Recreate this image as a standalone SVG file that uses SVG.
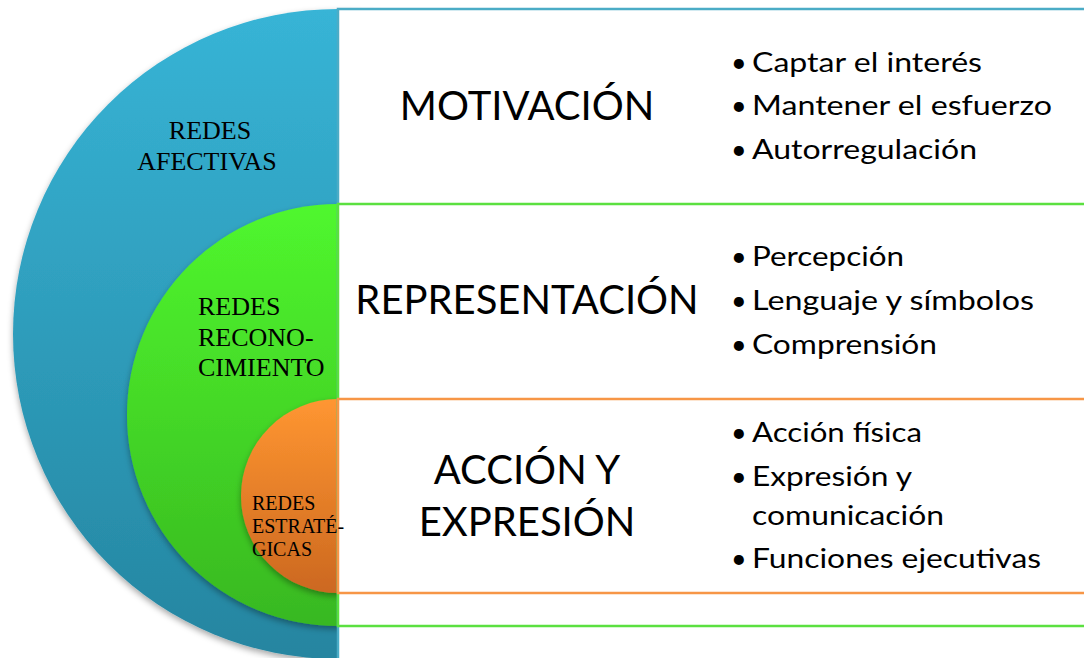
<svg xmlns="http://www.w3.org/2000/svg" width="1084" height="658" viewBox="0 0 1084 658">
  <defs>
    <linearGradient id="gBlue" x1="0" y1="0" x2="0" y2="1">
      <stop offset="0" stop-color="#37B4D6"/>
      <stop offset="1" stop-color="#2585A0"/>
    </linearGradient>
    <linearGradient id="gGreen" x1="0" y1="0" x2="0" y2="1">
      <stop offset="0" stop-color="#50F72E"/>
      <stop offset="1" stop-color="#38B820"/>
    </linearGradient>
    <linearGradient id="gOrange" x1="0" y1="0" x2="0" y2="1">
      <stop offset="0" stop-color="#FF9631"/>
      <stop offset="1" stop-color="#CC6820"/>
    </linearGradient>
    <filter id="shadow" x="-10%" y="-10%" width="120%" height="125%">
      <feDropShadow dx="0" dy="3" stdDeviation="3" flood-color="#000" flood-opacity="0.35"/>
    </filter>
  </defs>
  <style>
    .box { fill: #FFFFFF; stroke-width: 2.5; }
    .serif { font-family: "Liberation Serif", "Times New Roman", serif; fill: #000; }
    .title { font-family: Lato, "Open Sans", sans-serif; font-size: 40px; fill: #000; text-anchor: middle; }
    .item { font-family: Lato, "Open Sans", sans-serif; font-size: 27px; fill: #000; }
  </style>
  <rect width="1084" height="658" fill="#FFFFFF"/>

  <g id="circles">
    <g id="redes-afectivas">
      <circle cx="338" cy="334" r="325" fill="url(#gBlue)" filter="url(#shadow)"/>
      <text class="serif" font-size="26" text-anchor="middle"><tspan x="210" y="139">REDES</tspan><tspan x="207" y="170">AFECTIVAS</tspan></text>
    </g>
    <g id="redes-reconocimiento">
      <circle cx="338" cy="415" r="211" fill="url(#gGreen)" filter="url(#shadow)"/>
      <text class="serif" font-size="26"><tspan x="198" y="315">REDES</tspan><tspan x="198" y="346">RECONO-</tspan><tspan x="198" y="376">CIMIENTO</tspan></text>
    </g>
    <g id="redes-estrategicas">
      <circle cx="338" cy="496" r="97" fill="url(#gOrange)" filter="url(#shadow)"/>
    </g>
  </g>

  <g id="boxes">
    <rect class="box" x="338" y="9" width="800" height="700" stroke="#4BACC6"/>
    <rect class="box" x="338" y="204" width="800" height="422" stroke="#5BE040"/>
    <rect class="box" x="338" y="399" width="800" height="194" stroke="#F79646"/>
  </g>

  <g id="estrategicas-label">
    <text class="serif" font-size="20"><tspan x="252" y="510">REDES</tspan><tspan x="252" y="533">ESTRATÉ-</tspan><tspan x="252" y="556">GICAS</tspan></text>
  </g>

  <g id="motivacion">
    <text class="title" x="527" y="120">MOTIVACIÓN</text>
    <text class="item"><tspan x="731" y="72">•</tspan><tspan x="752" textLength="230" lengthAdjust="spacingAndGlyphs">Captar el interés</tspan></text>
    <text class="item"><tspan x="731" y="115">•</tspan><tspan x="752" textLength="300" lengthAdjust="spacingAndGlyphs">Mantener el esfuerzo</tspan></text>
    <text class="item"><tspan x="731" y="159">•</tspan><tspan x="752" textLength="225" lengthAdjust="spacingAndGlyphs">Autorregulación</tspan></text>
  </g>

  <g id="representacion">
    <text class="title" x="527" y="314">REPRESENTACIÓN</text>
    <text class="item"><tspan x="731" y="266">•</tspan><tspan x="752" textLength="152" lengthAdjust="spacingAndGlyphs">Percepción</tspan></text>
    <text class="item"><tspan x="731" y="310">•</tspan><tspan x="752" textLength="282" lengthAdjust="spacingAndGlyphs">Lenguaje y símbolos</tspan></text>
    <text class="item"><tspan x="731" y="354">•</tspan><tspan x="752" textLength="185" lengthAdjust="spacingAndGlyphs">Comprensión</tspan></text>
  </g>

  <g id="accion">
    <text class="title"><tspan x="527" y="484">ACCIÓN Y</tspan><tspan x="527" y="536">EXPRESIÓN</tspan></text>
    <text class="item"><tspan x="731" y="442">•</tspan><tspan x="752" textLength="170" lengthAdjust="spacingAndGlyphs">Acción física</tspan></text>
    <text class="item"><tspan x="731" y="486">•</tspan><tspan x="752" textLength="160" lengthAdjust="spacingAndGlyphs">Expresión y</tspan></text>
    <text class="item"><tspan x="752" y="525" textLength="192" lengthAdjust="spacingAndGlyphs">comunicación</tspan></text>
    <text class="item"><tspan x="731" y="568">•</tspan><tspan x="752" textLength="289" lengthAdjust="spacingAndGlyphs">Funciones ejecutivas</tspan></text>
  </g>
</svg>
